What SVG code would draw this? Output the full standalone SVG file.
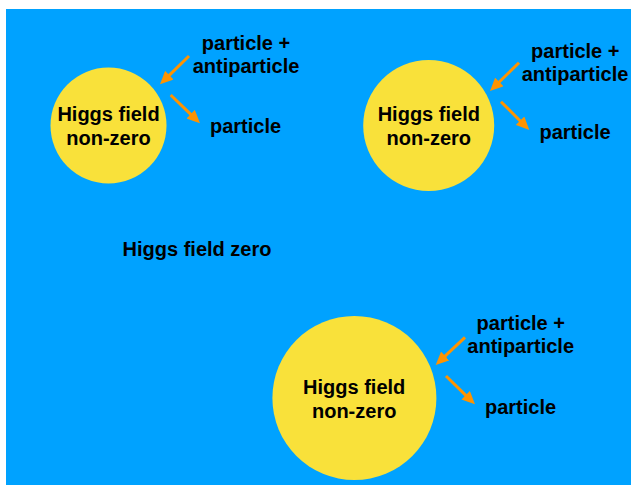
<svg xmlns="http://www.w3.org/2000/svg" width="631" height="485" viewBox="0 0 631 485">
<style>
.t{font-family:"Liberation Sans",Arial,sans-serif;font-weight:bold;font-size:20px;fill:#000;text-anchor:middle}
.c{fill:#F9E13A}
.a{stroke:#FF9300;stroke-width:3;fill:none;marker-end:url(#ah)}
</style>
<defs>
<marker id="ah" markerUnits="userSpaceOnUse" markerWidth="13" markerHeight="12" viewBox="0 0 13 12" refX="2" refY="6" orient="auto">
<path d="M0,0 L13,6 L0,12 z" fill="#FF9300"/>
</marker>
</defs>
<rect x="6" y="9" width="625" height="476" fill="#00A2FF"/>
<g id="node-zero">
<text class="t" x="197" y="256">Higgs field zero</text>
</g>
<g id="node-c1">
<circle class="c" cx="108.5" cy="125.5" r="58"/>
<text class="t" x="108.5" y="120.7">Higgs field</text>
<text class="t" x="108.5" y="145">non-zero</text>
</g>
<g id="node-c2">
<circle class="c" cx="428.7" cy="125.5" r="65.5"/>
<text class="t" x="428.8" y="120.7">Higgs field</text>
<text class="t" x="428.8" y="145">non-zero</text>
</g>
<g id="node-c3">
<circle class="c" cx="354.4" cy="398" r="82"/>
<text class="t" x="354.2" y="394">Higgs field</text>
<text class="t" x="354.2" y="418.3">non-zero</text>
</g>
<g id="label-1">
<text class="t" x="246" y="50">particle +</text>
<text class="t" x="246" y="73.3">antiparticle</text>
<text class="t" x="245.5" y="133.3">particle</text>
</g>
<g id="label-2">
<text class="t" x="575.3" y="58.3">particle +</text>
<text class="t" x="575" y="81">antiparticle</text>
<text class="t" x="575" y="139.3">particle</text>
</g>
<g id="label-3">
<text class="t" x="520.8" y="330">particle +</text>
<text class="t" x="520.7" y="353.3">antiparticle</text>
<text class="t" x="520.5" y="414.3">particle</text>
</g>
<g id="connectors">
<line class="a" x1="189" y1="56" x2="167.9" y2="76.6"/>
<line class="a" x1="170.7" y1="95" x2="192.1" y2="115.6"/>
<line class="a" x1="519" y1="62.7" x2="497.9" y2="83.3"/>
<line class="a" x1="501" y1="101.7" x2="521.5" y2="122.2"/>
<line class="a" x1="465" y1="337.3" x2="443.7" y2="357.4"/>
<line class="a" x1="446" y1="376" x2="467.1" y2="396.6"/>
</g>
</svg>
